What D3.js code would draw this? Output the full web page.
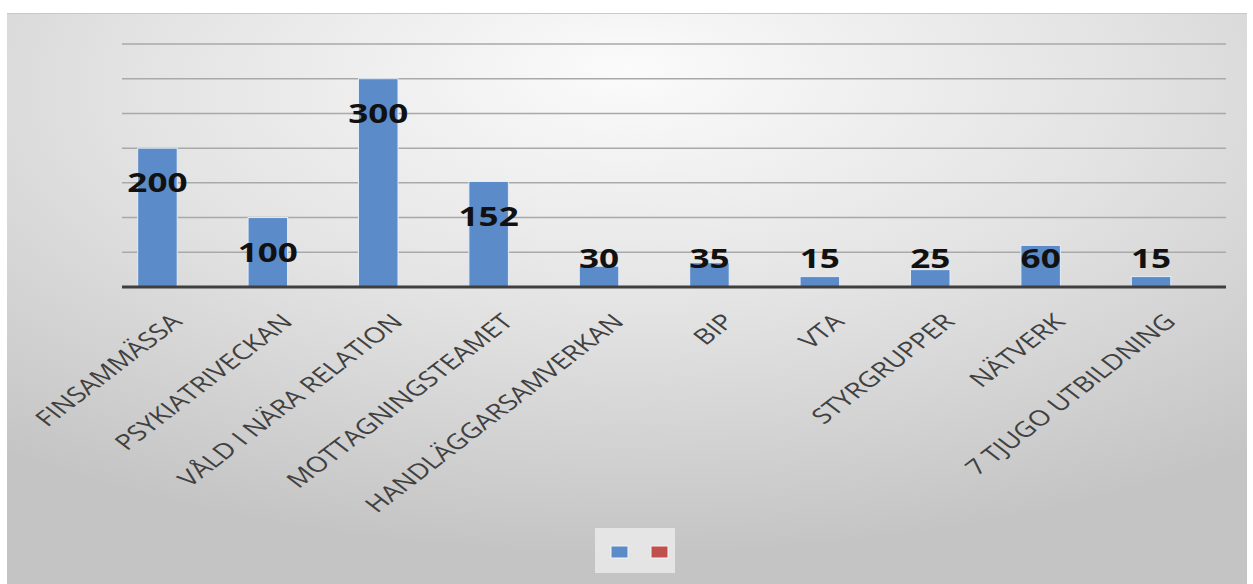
<!DOCTYPE html>
<html>
<head>
<meta charset="utf-8">
<script src="https://cdn.jsdelivr.net/npm/d3@7"></script>
<style>
  html, body { margin: 0; padding: 0; background: #ffffff; }
  svg { display: block; }
</style>
</head>
<body>
<svg id="chart" width="1253" height="584"></svg>
<script>
// ---- data ----
const categories = ["FINSAMMÄSSA", "PSYKIATRIVECKAN", "VÅLD I NÄRA RELATION", "MOTTAGNINGSTEAMET",
  "HANDLÄGGARSAMVERKAN", "BIP", "VTA", "STYRGRUPPER", "NÄTVERK", "7 TJUGO UTBILDNING"];
const series1 = [200, 100, 300, 152, 30, 35, 15, 25, 60, 15];
const series2 = [null, null, null, null, null, null, null, null, null, null];
const gridTicks = [0, 50, 100, 150, 200, 250, 300, 350];
const seriesColors = ["#5b8bc9", "#c0504d"];

// ---- layout ----
const W = 1253, H = 584;
const stretch = 1.3; // horizontal stretch of the original picture
const svg = d3.select("#chart");
const defs = svg.append("defs");
const grad = defs.append("radialGradient").attr("id", "bg")
  .attr("cx", 0.5).attr("cy", 0.15).attr("r", 0.8).attr("fx", 0.5).attr("fy", 0.1);
grad.append("stop").attr("offset", 0).attr("stop-color", "#fbfbfb");
grad.append("stop").attr("offset", 0.5).attr("stop-color", "#e3e3e3");
grad.append("stop").attr("offset", 1).attr("stop-color", "#c4c4c4");

svg.append("rect").attr("x", 7).attr("y", 13).attr("width", 1240).attr("height", H - 13)
  .attr("fill", "url(#bg)");
svg.append("line").attr("x1", 7).attr("x2", 1247).attr("y1", 13.5).attr("y2", 13.5)
  .attr("stroke", "#c8c8c8").attr("stroke-width", 1);

const plot = { left: 122, right: 1226, top: 44, bottom: 287 };

const x = d3.scaleBand().domain(categories).range([plot.left, plot.right]).paddingInner(0).paddingOuter(0);
const y = d3.scaleLinear().domain([0, 350]).range([plot.bottom, plot.top]);
const barW = x.bandwidth() * 0.358;

// gridlines
svg.append("g").selectAll("line").data(gridTicks.filter(d => d > 0)).join("line")
  .attr("x1", plot.left).attr("x2", plot.right)
  .attr("y1", d => y(d)).attr("y2", d => y(d))
  .attr("stroke", "#a9a9a9").attr("stroke-width", 1.5);

// bars (series 1 in left slot, series 2 empty in right slot)
const centers = categories.map(c => x(c) + x.bandwidth() / 2);
svg.append("g").selectAll("rect").data(series1).join("rect")
  .attr("x", (d, i) => centers[i] - barW)
  .attr("y", d => y(d))
  .attr("width", barW)
  .attr("height", d => y(0) - y(d))
  .attr("fill", seriesColors[0])
  .attr("stroke", "#e4eef9").attr("stroke-width", 1);
svg.append("g").selectAll("rect").data(series2.filter(d => d != null)).join("rect")
  .attr("x", (d, i) => centers[i])
  .attr("y", d => y(d)).attr("width", barW).attr("height", d => y(0) - y(d))
  .attr("fill", seriesColors[1]);

// baseline
svg.append("line").attr("x1", plot.left).attr("x2", plot.right)
  .attr("y1", y(0)).attr("y2", y(0)).attr("stroke", "#3f3f3f").attr("stroke-width", 3);

// data labels
svg.append("g").selectAll("text").data(series1).join("text")
  .attr("transform", (d, i) => `translate(${centers[i] - barW / 2},${Math.min(y(d) + 34, y(0) - 29)}) scale(${stretch},1)`)
  .attr("text-anchor", "middle").attr("dominant-baseline", "central")
  .attr("font-family", "'Open Sans', sans-serif").attr("font-weight", "bold").attr("font-size", 27)
  .attr("fill", "#111111")
  .text(d => d);

// category labels
svg.append("g").selectAll("text").data(categories).join("text")
  .attr("transform", (d, i) => `translate(${centers[i] - 8},${y(0) + 25}) scale(${stretch},1) rotate(-45)`)
  .attr("text-anchor", "end").attr("dy", "0.72em")
  .attr("font-family", "'Open Sans', sans-serif").attr("font-size", 21.5)
  .attr("fill", "#404040")
  .text(d => d);

// legend
const lg = svg.append("g").attr("transform", `translate(${W / 2 - 31.5},528)`);
lg.append("rect").attr("x", 0).attr("y", 0).attr("width", 80).attr("height", 45)
  .attr("fill", "#ececec").attr("opacity", 0.8);
seriesColors.forEach((c, i) => {
  lg.append("rect").attr("x", 16 + i * 40).attr("y", 18).attr("width", 17).attr("height", 12)
    .attr("fill", c).attr("stroke", "#f4f4f4").attr("stroke-width", 1);
});
</script>
</body>
</html>
